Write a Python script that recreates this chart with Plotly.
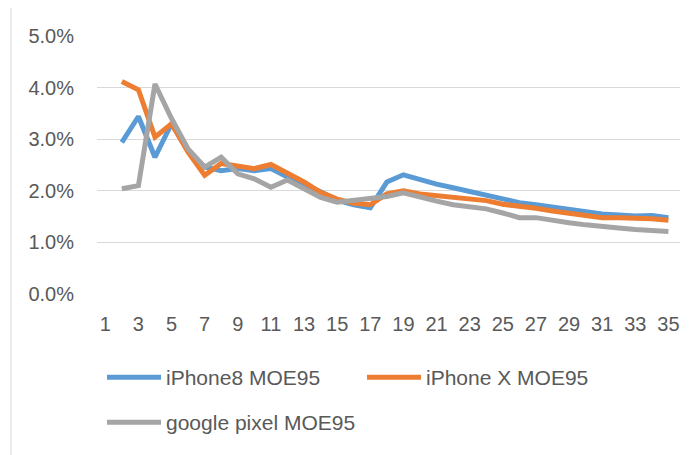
import plotly.graph_objects as go

x_vals = list(range(2, 36))

iphone8 = [2.94, 3.44, 2.65, 3.30, 2.78, 2.46, 2.39, 2.43, 2.39, 2.43,
           2.27, 2.13, 1.98, 1.82, 1.73, 1.67, 2.17, 2.31, 2.21, 2.13,
           2.06, 1.99, 1.92, 1.83, 1.77, 1.73, 1.68, 1.63, 1.59, 1.55,
           1.53, 1.51, 1.52, 1.48]
iphonex = [4.12, 3.96, 3.04, 3.30, 2.75, 2.30, 2.53, 2.47, 2.43, 2.51,
           2.34, 2.17, 1.97, 1.84, 1.76, 1.73, 1.94, 2.00, 1.94, 1.91,
           1.87, 1.84, 1.81, 1.74, 1.71, 1.66, 1.61, 1.57, 1.53, 1.48,
           1.48, 1.48, 1.46, 1.43]
pixel = [2.04, 2.10, 4.07, 3.40, 2.81, 2.46, 2.65, 2.33, 2.23, 2.07,
         2.21, 2.04, 1.87, 1.78, 1.81, 1.84, 1.89, 1.96, 1.87, 1.80,
         1.73, 1.69, 1.65, 1.57, 1.48, 1.48, 1.42, 1.38, 1.34, 1.30,
         1.28, 1.25, 1.23, 1.21]

series = [
    ("iPhone8 MOE95", iphone8, "#5B9BD5", "legend"),
    ("iPhone X MOE95", iphonex, "#ED7D31", "legend"),
    ("google pixel MOE95", pixel, "#A5A5A5", "legend2"),
]

# page body adds an 8px margin, so the figure is sized to fit the window
W, H = 691, 447
L, R, T, B = 89, 19, 28, 161
pw, ph = W - L - R, H - T - B

fig = go.Figure()
for name, vals, color, leg in series:
    fig.add_trace(go.Scatter(
        x=x_vals, y=[v / 100 for v in vals], name=name, mode="lines",
        line=dict(color=color, width=5), legend=leg,
    ))

legend_font = dict(family="Liberation Sans", size=21, color="#595959")

fig.update_layout(
    width=W, height=H,
    margin=dict(l=L, r=R, t=T, b=B, autoexpand=False),
    paper_bgcolor="white", plot_bgcolor="white",
    font=dict(family="Liberation Sans", size=20, color="#595959"),
    showlegend=True,
    legend=dict(
        orientation="h", xref="container", yref="container",
        x=94 / W, y=1 - 349 / H, xanchor="left", yanchor="top",
        entrywidth=191, entrywidthmode="pixels", itemwidth=54,
        font=legend_font,
    ),
    legend2=dict(
        orientation="h", xref="container", yref="container",
        x=94 / W, y=1 - 394 / H, xanchor="left", yanchor="top",
        itemwidth=54, font=legend_font,
    ),
    shapes=[dict(type="line", xref="paper", yref="paper",
                 x0=-86 / pw, x1=-86 / pw, y0=-B / ph, y1=1 + T / ph,
                 line=dict(color="#D9D9D9", width=1))],
)
fig.update_xaxes(
    range=[0.5, 35.7], tickmode="linear", tick0=1, dtick=2,
    showgrid=False, zeroline=False, showline=False, ticks="",
    ticklabelstandoff=16, automargin=False,
)
fig.update_yaxes(
    range=[0, 0.05], dtick=0.01, tickformat=".1%",
    showgrid=True, gridcolor="#D9D9D9", gridwidth=1.3,
    zeroline=False, showline=False, ticks="", ticklabelstandoff=22,
    automargin=False,
)

fig.write_html("out.html")
